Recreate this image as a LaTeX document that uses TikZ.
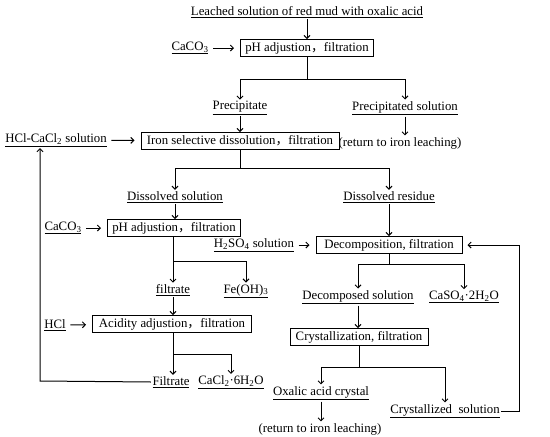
\documentclass[tikz,border=0pt]{standalone}
\usepackage{fontspec}
\setmainfont{Liberation Serif}
\newfontfamily\cjk{Noto Sans CJK SC}
\usetikzlibrary{arrows.meta}
\newcommand\fwc{{\cjk ，}}
\begin{document}
\begin{tikzpicture}[x=1pt,y=-1pt,
  font=\fontsize{12.8}{14}\selectfont,
  box/.style={draw, line width=1pt, inner xsep=3pt, inner ysep=1pt, minimum height=17pt},
  lbl/.style={inner sep=1.5pt},
  flow/.style={line width=1pt},
  arr/.style={flow, -{Straight Barb[length=3pt,width=6pt]}},
  side/.style={arr, shorten <=3pt, shorten >=6pt},
]
\useasboundingbox (0,0) rectangle (550,437);
% nodes
\node[lbl] (leach) at (307,12) {\underline{Leached solution of red mud with oxalic acid}};
\node[box, minimum width=133pt] (b1) at (307,48) {pH adjustion\fwc filtration};
\node[lbl] (ca1) at (190,48) {\underline{CaCO\textsubscript{3}}};
\coordinate (j1) at (307,79);
\node[lbl] (prec) at (240,108) {\underline{Precipitate}};
\node[lbl] (psol) at (405,108) {\underline{Precipitated solution}};
\node[box, minimum width=198pt] (b2) at (240,141) {Iron selective dissolution\fwc filtration};
\node[lbl] (hcc) at (56,140) {\underline{HCl-CaCl\textsubscript{2} solution}};
\node[lbl] (ret1) at (400,143) {(return to iron leaching)};
\coordinate (j2) at (240,168);
\node[lbl] (dsol) at (175,197) {\underline{Dissolved solution}};
\node[lbl] (dres) at (389,197) {\underline{Dissolved residue}};
\node[box, minimum width=133pt] (b3) at (174,228) {pH adjustion\fwc filtration};
\node[lbl] (ca2) at (63,228) {\underline{CaCO\textsubscript{3}}};
\node[box, minimum width=146pt] (b4) at (389,245) {Decomposition,\ filtration};
\node[lbl] (h2so4) at (254,245) {\underline{H\textsubscript{2}SO\textsubscript{4} solution}};
\coordinate (j3) at (173,261);
\node[lbl] (filt1) at (173,290) {\underline{filtrate}};
\node[lbl] (feoh) at (246,291) {\underline{Fe(OH)\textsubscript{3}}};
\coordinate (j4) at (389,264);
\node[lbl] (dcsol) at (358,297) {\underline{Decomposed solution}};
\node[lbl] (caso) at (464,297) {\underline{CaSO\textsubscript{4}·2H\textsubscript{2}O}};
\node[box, minimum width=159pt] (b5) at (172,324) {Acidity adjustion\fwc filtration};
\node[lbl] (hcl) at (55,325) {\underline{HCl}};
\node[box, minimum width=138pt] (b6) at (359,337) {Crystallization, filtration};
\coordinate (j5) at (173,354);
\node[lbl] (filt2) at (171,382) {\underline{Filtrate}};
\node[lbl] (cacl) at (231,382) {\underline{CaCl\textsubscript{2}·6H\textsubscript{2}O}};
\coordinate (j6) at (359,367);
\node[lbl] (oxc) at (321,393) {\underline{Oxalic acid crystal}};
\node[lbl] (crs) at (445,411) {\underline{Crystallized\ \ solution}};
\node[lbl] (ret2) at (320,429) {(return to iron leaching)};
\coordinate (fbl) at (40,381);
\coordinate (fbr) at (519,411);
% connectors
\draw[arr] (leach) -- (b1);
\draw[side] (ca1) -- (b1);
\draw[flow] (b1) -- (j1);
\draw[arr] (j1) -| (prec);
\draw[arr] (j1) -| (psol);
\draw[arr] (prec) -- (prec |- b2.north);
\draw[arr] (psol) -- (psol |- ret1.north);
\draw[side] (hcc) -- (b2);
\draw[flow] (b2) -- (j2);
\draw[arr] (j2) -| (dsol);
\draw[arr] (j2) -| (dres);
\draw[arr] (dsol) -- (dsol |- b3.north);
\draw[arr] (dres) -- (dres |- b4.north);
\draw[side] (ca2) -- (b3);
\draw[side] (h2so4) -- (b4);
\draw[flow] (b3.south -| j3) -- (j3);
\draw[arr] (j3) -- (filt1);
\draw[arr] (j3) -| (feoh);
\draw[flow] (b4) -- (j4);
\draw[arr] (j4) -| (dcsol);
\draw[arr] (j4) -| (caso);
\draw[arr] (filt1) -- (filt1 |- b5.north);
\draw[side] (hcl) -- (b5);
\draw[arr] (dcsol) -- (dcsol |- b6.north);
\draw[flow] (b5.south -| j5) -- (j5);
\draw[arr] (j5) -- (j5 |- filt2.north);
\draw[arr] (j5) -| (cacl);
\draw[flow] (b6) -- (j6);
\draw[arr] (j6) -| (oxc);
\draw[arr] (j6) -| (crs);
\draw[arr] (oxc) -- (oxc |- ret2.north);
\draw[arr] (filt2.west) -- (fbl) -- (fbl |- hcc.south);
\draw[arr, shorten >=5pt] (crs.east) -- (fbr) |- (b4.east);
\end{tikzpicture}
\end{document}
